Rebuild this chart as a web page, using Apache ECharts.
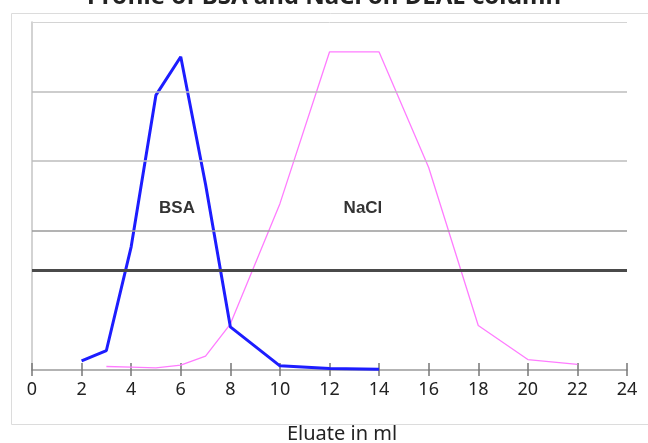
<!DOCTYPE html>
<html>
<head>
<meta charset="utf-8">
<script src="https://cdn.jsdelivr.net/npm/echarts@6/dist/echarts.min.js"></script>
<style>
html,body{margin:0;padding:0;background:#fff;}
#chart{width:648px;height:443px;}
</style>
</head>
<body>
<div id="chart"></div>
<script>
// Data
var bsaX = [2, 3, 4, 5, 6, 7, 8, 10, 12, 14];
var bsaY = [0.13, 0.28, 1.77, 3.95, 4.5, 2.67, 0.62, 0.06, 0.02, 0.01];
var naclX = [3, 4, 5, 6, 7, 8, 10, 12, 14, 16, 18, 20, 22];
var naclY = [0.05, 0.04, 0.03, 0.07, 0.2, 0.66, 2.39, 4.57, 4.57, 2.91, 0.64, 0.15, 0.08];
var xTicks = [0, 2, 4, 6, 8, 10, 12, 14, 16, 18, 20, 22, 24];
var gridLevels = [2, 3, 4, 5];
var thickLevel = 1.43;
var labelBSA = {name: 'BSA', x: 5.85, y: 2.33};
var labelNaCl = {name: 'NaCl', x: 13.35, y: 2.33};
var titleText = 'Profile of BSA and NaCl on DEAE column';
var xName = 'Eluate in ml';

function pairs(xs, ys) { return xs.map(function (x, i) { return [x, ys[i]]; }); }

var gridColors = {2: '#9a9a9a', 3: '#bdbdbd', 4: '#bdbdbd', 5: '#d4d4d4'};
var markData = gridLevels.map(function (v) {
  return {yAxis: v, lineStyle: {color: gridColors[v], width: v === 5 ? 1 : 1.5, type: 'solid'}};
});
markData.push({yAxis: thickLevel, lineStyle: {color: '#4a4a4a', width: 3, type: 'solid'}});

var chart = echarts.init(document.getElementById('chart'), null, {renderer: 'canvas'});
chart.setOption({
  animation: false,
  backgroundColor: '#ffffff',
  title: {
    text: titleText,
    left: 'center',
    top: -20,
    textStyle: {fontFamily: 'Noto Sans', fontSize: 24, fontWeight: 'bold', color: '#222'}
  },
  graphic: [{
    type: 'rect',
    left: 9, top: 11,
    shape: {width: 660, height: 411},
    style: {fill: 'none', stroke: '#dcdcdc', lineWidth: 1},
    silent: true, z: -10
  }],
  grid: {left: 32, right: 21, top: 22, bottom: 73, containLabel: false, outerBoundsMode: 'none'},
  xAxis: [{
    type: 'value', min: 0, max: 24, interval: 2,
    axisLine: {show: true, lineStyle: {color: '#9a9a9a', width: 1.5}},
    axisTick: {show: true, length: 6, lineStyle: {color: '#777', width: 1.5}},
    axisLabel: {
      margin: 11, color: '#222', fontFamily: 'Noto Sans', fontSize: 18,
      formatter: function (v) { return xTicks.indexOf(v) >= 0 ? String(v) : ''; }
    },
    splitLine: {show: false},
    name: xName, nameLocation: 'middle', nameGap: 54,
    nameTextStyle: {fontFamily: 'Noto Sans', fontSize: 20, color: '#222', padding: [0, 0, 0, 25]}
  }, {
    type: 'value', min: 0, max: 24, interval: 2, position: 'bottom',
    axisLine: {show: false},
    axisTick: {show: true, inside: true, length: 7, lineStyle: {color: '#777', width: 1.5}},
    axisLabel: {show: false},
    splitLine: {show: false}
  }],
  yAxis: {
    type: 'value', min: 0, max: 5, interval: 1,
    axisLine: {show: true, lineStyle: {color: '#c4c4c4', width: 1.5}},
    axisTick: {show: false},
    axisLabel: {show: false},
    splitLine: {show: false}
  },
  series: [{
    name: 'NaCl',
    type: 'line',
    data: pairs(naclX, naclY),
    showSymbol: false,
    symbol: 'none',
    lineStyle: {color: '#ff7cff', width: 1.3},
    z: 3,
    markLine: {
      silent: true, symbol: 'none', label: {show: false},
      data: markData
    },
    markPoint: {
      symbol: 'rect', symbolSize: 1, itemStyle: {color: 'transparent'},
      label: {show: true, position: 'inside', color: '#333', fontFamily: 'Liberation Sans', fontSize: 17, fontWeight: 'bold',
        formatter: function (p) { return p.name; }},
      data: [
        {name: labelBSA.name, coord: [labelBSA.x, labelBSA.y]},
        {name: labelNaCl.name, coord: [labelNaCl.x, labelNaCl.y]}
      ]
    }
  }, {
    name: 'BSA',
    type: 'line',
    data: pairs(bsaX, bsaY),
    showSymbol: false,
    symbol: 'none',
    lineStyle: {color: '#1d1dff', width: 3},
    z: 4
  }]
});
</script>
</body>
</html>
